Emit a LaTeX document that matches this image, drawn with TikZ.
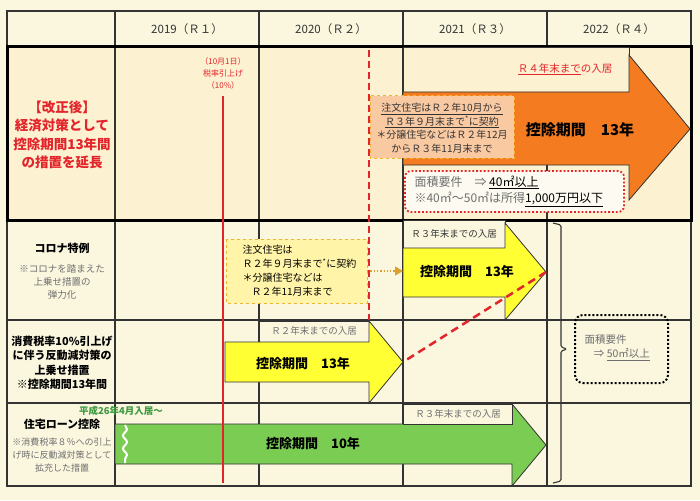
\documentclass[tikz,border=0pt]{standalone}
\usepackage{fontspec}
\setmainfont{Noto Sans CJK JP}
\usetikzlibrary{arrows.meta,decorations.pathmorphing}
\definecolor{bgcream}{HTML}{FBF7DF}
\definecolor{rowone}{HTML}{FCF1D0}
\definecolor{redline}{HTML}{E3242B}
\definecolor{orangearrow}{HTML}{F47B20}
\definecolor{yellowarrow}{HTML}{FFFF33}
\definecolor{greenarrow}{HTML}{7ACC52}
\definecolor{peach}{HTML}{F9C9A2}
\definecolor{peachedge}{HTML}{F2B233}
\definecolor{paleyellow}{HTML}{FFF4A8}
\definecolor{goldline}{HTML}{D9A032}
\definecolor{greytext}{HTML}{6E6E6E}
\definecolor{greentext}{HTML}{3E9A40}
\definecolor{gridline}{HTML}{333333}
\newcommand{\fs}[2]{\fontsize{#1}{#2}\selectfont}
\tikzset{
	gridrule/.style={draw=gridline,line width=1.1pt},
	arrowshape/.style={draw=gridline,line width=0.8pt},
	labelbox/.style={draw=gridline,line width=0.8pt,fill=bgcream},
	period/.style={font=\bfseries\fs{13}{16}},
	yearhead/.style={font=\fs{11.5}{14},text=gridline}
}
\begin{document}
\begin{tikzpicture}[x=1pt,y=-1pt]
	\useasboundingbox (0,0) rectangle (700,500);
	\fill[bgcream] (0,0) rectangle (700,500);
	\fill[rowone] (7,47) rectangle (691,220);
	% table
	\draw[gridrule] (7,11) rectangle (691,486);
	\draw[gridrule] (7,320)--(691,320);
	\draw[gridrule] (7,403)--(691,403);
	\foreach \x in {115,259,403,547}
		\draw[gridrule] (\x,11)--(\x,486);
	\draw[line width=3pt] (7,47) rectangle (691,220);
	\node[yearhead] (yone) at (187,29) {2019（Ｒ１）};
	\node[yearhead] (ytwo) at (331,29) {2020（Ｒ２）};
	\node[yearhead] (ythree) at (475,29) {2021（Ｒ３）};
	\node[yearhead] (yfour) at (619,29) {2022（Ｒ４）};
	% row 1
	\draw[labelbox,fill=rowone] (403,47) rectangle (629,92);
	\draw[arrowshape,fill=orangearrow] (403,92)--(629,92)--(629,55)--(690,129)--(629,200)--(629,165)--(403,165)--cycle;
	\draw[peachedge,dashed,line width=1pt,fill=peach] (370,96) rectangle (514,158);
	\draw[redline,dotted,line width=1.8pt,rounded corners=6pt,fill=white!55!bgcream] (405,171) rectangle (624,212);
	\draw[redline,dashed,line width=2pt,dash pattern=on 7pt off 4pt] (369,50)--(369,320);
	\node[text=redline,font=\bfseries\fs{13.5}{18.5},align=center] (revised) at (62,135) {【改正後】\\経済対策として\\控除期間13年間\\の措置を延長};
	\node[text=redline,font=\fs{8}{12},align=center] (taxrise) at (223,73) {（10月1日）\\税率引上げ\\（10\%）};
	\node[text=redline,font=\fs{10.5}{13}] (limitfour) at (565,69) {\underline{Ｒ４年末まで}の入居};
	\node[text=gridline,font=\fs{10}{13.5},align=center] (contractone) at (442,128) {\underline{注文住宅はＲ２年10月から}\\\underline{Ｒ３年９月末まで\textsuperscript{*}に契約}\\＊分譲住宅などはＲ２年12月\\からＲ３年11月末まで};
	\node[period,font=\bfseries\fs{15}{18}] (periodone) at (580,130) {控除期間　13年};
	\node[anchor=west,align=left,font=\fs{12}{16},text=greytext] (areaone) at (411,191) {面積要件　⇒ \textcolor{black}{\underline{40㎡以上}}\\※40㎡～50㎡は所得\textcolor{black}{\underline{1,000万円以下}}};
	% row 2
	\draw[labelbox] (403,220) rectangle (505,248);
	\draw[arrowshape,fill=yellowarrow] (403,248)--(505,248)--(505,223)--(546,272)--(505,320)--(505,297)--(403,297)--cycle;
	\draw[peachedge,dashed,line width=1pt,fill=paleyellow] (226,239) rectangle (367,303);
	\node[font=\bfseries\fs{11}{14}] (corona) at (62,248) {コロナ特例};
	\node[text=greytext,font=\fs{9.5}{13},align=center] (coronanote) at (62,282) {※コロナを踏まえた\\上乗せ措置の\\弾力化};
	\node[anchor=west,align=left,font=\fs{10}{14}] (contracttwo) at (239,271) {注文住宅は\\Ｒ２年９月末まで\textsuperscript{*}に契約\\＊分譲住宅などは\\\hspace{0.9em}Ｒ２年11月末まで};
	\coordinate (arrowtwoin) at (403,271);
	\draw[goldline,dotted,line width=1.3pt,-{Triangle[length=8pt,width=9pt]}] (367,271)--(arrowtwoin);
	\node[font=\fs{9.5}{12},text=gridline] (limitthree) at (454,234) {Ｒ３年末までの入居};
	\node[period] (periodtwo) at (467,272) {控除期間　13年};
	% row 3
	\draw[labelbox] (259,321) rectangle (369,342);
	\draw[arrowshape,fill=yellowarrow] (225,342)--(369,342)--(369,321)--(403,362)--(369,403)--(369,382)--(225,382)--cycle;
	\coordinate (tiptwo) at (546,272);
	\coordinate (tipthree) at (403,362);
	\draw[redline,line width=2.5pt,dash pattern=on 8pt off 5pt] (tiptwo)--(tipthree);
	\node[font=\bfseries\fs{11}{14.5},align=center] (taxten) at (62,363) {消費税率10\%引上げ\\に伴う反動減対策の\\上乗せ措置\\※控除期間13年間};
	\node[font=\fs{9.5}{12},text=greytext] (limittwo) at (314,331) {Ｒ２年末までの入居};
	\node[period] (periodthree) at (303,364) {控除期間　13年};
	\draw[black,dotted,line width=2pt,rounded corners=8pt] (575,315) rectangle (668,383);
	\node[anchor=west,align=left,font=\fs{10.5}{14},text=greytext] (areatwo) at (581,348) {面積要件\\\hspace{0.9em}⇒ \underline{50㎡以上}};
	\draw[gridrule,rounded corners=1.5pt] (553,223)--(561,225)--(561,347)--(567,349)--(561,351)--(561,481)--(553,483);
	% row 4
	\draw[arrowshape,fill=greenarrow] (115,424)--(512,424)--(512,404)--(546,445)--(512,486)--(512,464)--(115,464)--cycle;
	\draw[labelbox] (403,404) rectangle (512,424);
	\draw[white,line width=2pt,decorate,decoration={snake,segment length=13pt,amplitude=2pt}] (125,425)--(125,463);
	\node[font=\bfseries\fs{11}{14}] (loan) at (62,424) {住宅ローン控除};
	\node[text=greytext,font=\fs{9}{13},align=center] (loannote) at (62,455) {※消費税率８％への引上\\げ時に反動減対策として\\拡充した措置};
	\node[text=greentext,font=\bfseries\fs{9.5}{12}] (since) at (121,411) {平成26年4月入居～};
	\node[font=\fs{9.5}{12},text=greytext] (limitone) at (458,414) {Ｒ３年末までの入居};
	\node[period] (periodfour) at (313,444) {控除期間　10年};
	% tax rate line
	\draw[redline,line width=2.5pt] (223,96)--(223,483);
\end{tikzpicture}
\end{document}
